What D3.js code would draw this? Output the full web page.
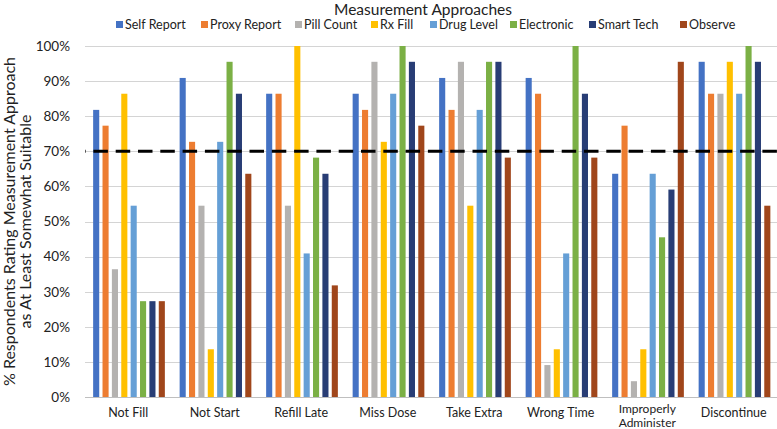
<!DOCTYPE html>
<html>
<head>
<meta charset="utf-8">
<script src="https://cdn.jsdelivr.net/npm/d3@7"></script>
<style>
body { margin: 0; background: #fff; }
text { font-family: Lato, "Open Sans", sans-serif; fill: #222; }
</style>
</head>
<body>
<div id="chart"></div>
<script>
// categories and series
var categories = ["Not Fill", "Not Start", "Refill Late", "Miss Dose", "Take Extra", "Wrong Time", "Improperly Administer", "Discontinue"]
var series = ["Self Report", "Proxy Report", "Pill Count", "Rx Fill", "Drug Level", "Electronic", "Smart Tech", "Observe"]
var colors = ["#4472c4", "#ed7d31", "#b4b2b0", "#ffc000", "#659fd6", "#7bb045", "#283d75", "#a0461b"]

// percent values, one array per series (order follows categories)
var self_report  = [81.8, 90.9, 86.4, 86.4, 90.9, 90.9, 63.6, 95.5]
var proxy_report = [77.3, 72.7, 86.4, 81.8, 81.8, 86.4, 77.3, 86.4]
var pill_count   = [36.4, 54.5, 54.5, 95.5, 95.5, 9.1, 4.5, 86.4]
var rx_fill      = [86.4, 13.6, 100, 72.7, 54.5, 13.6, 13.6, 95.5]
var drug_level   = [54.5, 72.7, 40.9, 86.4, 81.8, 40.9, 63.6, 86.4]
var electronic   = [27.3, 95.5, 68.2, 100, 95.5, 100, 45.5, 100]
var smart_tech   = [27.3, 86.4, 63.6, 95.5, 95.5, 86.4, 59.1, 95.5]
var observe      = [27.3, 63.6, 31.8, 77.3, 68.2, 68.2, 95.5, 54.5]
var values = [self_report, proxy_report, pill_count, rx_fill, drug_level, electronic, smart_tech, observe]

var y_ticks = [0, 10, 20, 30, 40, 50, 60, 70, 80, 90, 100]
var threshold = 70

var width = 777
var height = 429
var plot_left = 85
var plot_right = 777
var plot_top = 46
var plot_bottom = 397

var svg = d3.select("#chart")
	.append("svg")
	.attr("width", width)
	.attr("height", height)

var x0 = d3.scaleBand()
	.domain(categories)
	.range([plot_left, plot_right])

var x1 = d3.scaleBand()
	.domain(series)
	.range([6.5, x0.bandwidth() - 5])
	.paddingInner(0.35)
	.paddingOuter(0.175)

var y = d3.scaleLinear()
	.domain([0, 100])
	.range([plot_bottom, plot_top])

// gridlines
svg.append("g")
	.selectAll("line")
	.data(y_ticks)
	.join("line")
	.attr("x1", plot_left)
	.attr("x2", plot_right)
	.attr("y1", d => Math.round(y(d)) + 0.5)
	.attr("y2", d => Math.round(y(d)) + 0.5)
	.attr("stroke", d => d == 0 ? "#bfbfbf" : "#d4d4d4")
	.attr("stroke-width", 1)

// y axis labels
var yAxis = d3.axisLeft(y)
	.tickValues(y_ticks)
	.tickFormat(d => d + "%")
	.tickSize(0)
	.tickPadding(0)
var gy = svg.append("g")
	.attr("transform", "translate(70,0)")
	.call(yAxis)
gy.select(".domain").remove()
gy.selectAll("text")
	.style("font-family", "Lato, sans-serif")
	.style("font-size", "13.5px")
	.attr("fill", "#222")

// bars
var groups = svg.append("g")
	.selectAll("g")
	.data(series)
	.join("g")
	.attr("fill", (d, i) => colors[i])

groups.selectAll("rect")
	.data((s, si) => categories.map((c, ci) => ({cat: c, ser: s, val: values[si][ci]})))
	.join("rect")
	.attr("x", d => x0(d.cat) + x1(d.ser))
	.attr("y", d => y(d.val))
	.attr("width", x1.bandwidth())
	.attr("height", d => y(0) - y(d.val))

// threshold line
svg.append("line")
	.attr("x1", plot_left)
	.attr("x2", plot_right)
	.attr("y1", y(threshold))
	.attr("y2", y(threshold))
	.attr("stroke", "#000")
	.attr("stroke-width", 3)
	.attr("stroke-dasharray", "14.5,7.8")
	.attr("stroke-dashoffset", 13.9)

// x axis labels
var xlab = svg.append("g")
	.selectAll("text")
	.data(categories)
	.join("text")
	.attr("x", d => x0(d) + x0.bandwidth() / 2)
	.attr("y", 417)
	.attr("text-anchor", "middle")
	.style("font-size", "12.5px")
xlab.each(function(d){
	var t = d3.select(this)
	if (d == "Improperly Administer"){
		t.attr("y", 413).style("font-size", "12px")
		t.append("tspan").attr("x", t.attr("x")).text("Improperly")
		t.append("tspan").attr("x", t.attr("x")).attr("dy", 13.5).text("Administer")
	} else {
		t.text(d)
	}
})

// y axis title
svg.append("text")
	.attr("transform", "translate(15," + (plot_top + plot_bottom) / 2 + ") rotate(-90)")
	.attr("text-anchor", "middle")
	.style("font-size", "16px")
	.selectAll("tspan")
	.data(["% Respondents Rating Measurement Approach", "as At Least Somewhat Suitable"])
	.join("tspan")
	.attr("x", 0)
	.attr("dy", (d, i) => i == 0 ? 0 : 16)
	.text(d => d)

// chart title
svg.append("text")
	.attr("x", 423)
	.attr("y", 15)
	.attr("text-anchor", "middle")
	.style("font-size", "15.5px")
	.text("Measurement Approaches")

// legend
var legend_x = [116, 201, 295, 371, 430, 510, 589, 680]
var legend = svg.append("g")
	.selectAll("g")
	.data(series)
	.join("g")
	.attr("transform", (d, i) => "translate(" + legend_x[i] + ",25)")
legend.append("rect")
	.attr("x", 0)
	.attr("y", -4)
	.attr("width", 7)
	.attr("height", 7)
	.attr("fill", (d, i) => colors[i])
legend.append("text")
	.attr("x", 9)
	.attr("y", 4)
	.style("font-size", "12.5px")
	.text(d => d)
</script>
</body>
</html>
